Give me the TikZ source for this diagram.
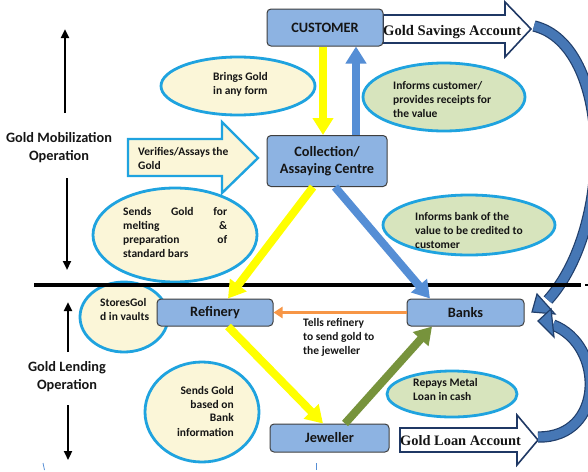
\documentclass[tikz,border=0pt]{standalone}
\usepackage{fontspec}
\setmainfont{Carlito}
\newfontfamily\serifb{Liberation Serif}
\usetikzlibrary{shapes.geometric,arrows.meta,calc}
\definecolor{boxfill}{HTML}{8DB3E2}
\definecolor{boxline}{HTML}{3F3F3F}
\definecolor{ellline}{HTML}{1FA3DF}
\definecolor{ellyel}{HTML}{FBF6D8}
\definecolor{ellgrn}{HTML}{D7E4BD}
\definecolor{ylw}{HTML}{FFFF00}
\definecolor{blu}{HTML}{558ED5}
\definecolor{grn}{HTML}{77933C}
\definecolor{org}{HTML}{F79646}
\definecolor{navy}{HTML}{1F3864}
\definecolor{cfill}{HTML}{4677B5}
\definecolor{cline}{HTML}{213F6B}
\definecolor{txt}{HTML}{151515}
\tikzset{
  box/.style={draw=boxline, line width=1pt, fill=boxfill, rounded corners=4pt, text=txt,
    font=\bfseries\fontsize{14.3}{17}\selectfont, align=center, inner sep=0pt},
  ell/.style={ellipse, draw=ellline, line width=2.8pt, inner sep=0pt},
  etxt/.style={font=\bfseries\fontsize{11.5}{14}\selectfont, text=txt, inner sep=0pt},
  side/.style={font=\bfseries\fontsize{14.3}{18}\selectfont, text=txt, align=center, inner sep=0pt},
  vert/.style={line width=2.6pt, -{Triangle[width=8pt,length=9pt]}},
  fat/.style={line width=8pt, -{Triangle[width=20pt,length=17pt]}},
  blockarr/.style={draw=navy, line width=1.6pt, fill=white, line join=miter},
  curved/.style={draw=cline, double=cfill, double distance=9pt, line width=1.2pt},
  chead/.style={draw=cline, fill=cfill, line width=1.2pt, line join=miter},
}
\begin{document}
\begin{tikzpicture}[x=1pt,y=-1pt]
\useasboundingbox (0,0) rectangle (588,471);
\clip (0,0) rectangle (588,471);

% block arrows
\draw[blockarr] (383,15) -- (505,15) -- (505,2) -- (531,29) -- (505,57) -- (505,43) -- (383,43) -- cycle;
\node[font=\serifb\bfseries\fontsize{14.6}{16}\selectfont, text=txt, inner sep=0pt, anchor=west] (gsa) at (383,32) {Gold Savings Account};
\draw[blockarr] (400,428) -- (517,428) -- (517,415) -- (538,440) -- (517,465) -- (517,452) -- (400,452) -- cycle;
\node[font=\serifb\bfseries\fontsize{14.4}{16}\selectfont, text=txt, inner sep=0pt, anchor=west] (gla) at (400,441) {Gold Loan Account};

% curved arrows
\draw[curved] (534,26) .. controls (612,45) and (615,225) .. (548,300);
\draw[chead] (532,312) -- (537,294) -- (555,314) -- cycle;
\draw[curved] (538,437) .. controls (605,438) and (605,345) .. (553,325);
\draw[chead] (538,321) -- (551,309) -- (554,337) -- cycle;

\draw[blockarr, draw=ellline, line width=2.4pt, fill=ellyel] (128,139) -- (222,139) -- (222,122) -- (258,158) -- (222,193) -- (222,176) -- (128,176) -- cycle;
\node[etxt, anchor=west, align=left] (t3) at (138,158) {Verifies/Assays the\\Gold};

% ellipses
\node[ell, fill=ellyel, minimum width=154pt, minimum height=58pt] (e1) at (238,86) {};
\node[ell, fill=ellgrn, minimum width=162pt, minimum height=68pt] (e2) at (444,97) {};
\node[ell, fill=ellyel, minimum width=164pt, minimum height=94pt] (e4) at (175,235) {};
\node[ell, fill=ellgrn, minimum width=172pt, minimum height=60pt] (e5) at (469,225) {};
\node[ell, fill=ellyel, minimum width=88pt, minimum height=70pt] (e6) at (124,317) {};
\node[ell, fill=ellgrn, minimum width=130pt, minimum height=46pt] (e8) at (452,394) {};
\node[ell, fill=ellyel, minimum width=114pt, minimum height=100pt] (e9) at (202,412) {};

\node[etxt, anchor=west, align=left] (t1) at (213,84) {Brings Gold\\in any form};
\node[etxt, anchor=west, align=left] (t2) at (393,99.5) {Informs customer/\\provides receipts for\\the value};
\node[etxt, anchor=west, align=left] (t4) at (123,233) {\hbox to 104pt{Sends\hfill Gold\hfill for}\\\hbox to 104pt{melting\hfill \&}\\\hbox to 104pt{preparation\hfill of}\\\hbox to 104pt{standard bars\hfill}};
\node[etxt, anchor=west, align=left] (t5) at (415,230.5) {Informs bank of the\\value to be credited to\\customer};
\node[etxt, anchor=west, align=left] (t6) at (100,310) {StoresGol\\d in vaults};
\node[etxt, anchor=west, align=left] (t7) at (303,337.5) {Tells refinery\\to send gold to\\the jeweller};
\node[etxt, anchor=west, align=left] (t8) at (413,390) {Repays Metal\\Loan in cash};
\node[etxt, anchor=east, align=right] (t9) at (234,411) {Sends Gold\\based on\\Bank\\information};

% separator line
\draw[line width=3.5pt] (34,285) -- (581,285);
\draw[line width=2pt] (585,285) -- (588,285);

% boxes
\node[box, minimum width=116pt, minimum height=37pt] (cust) at (325,27.5) {CUSTOMER};
\node[box, minimum width=120pt, minimum height=51pt] (coll) at (327,161) {Collection/\\Assaying Centre};
\node[box, minimum width=116pt, minimum height=27pt] (ref) at (215,312.5) {Refinery};
\node[box, minimum width=117pt, minimum height=27pt] (bank) at (465.5,312.5) {Banks};
\node[box, minimum width=119pt, minimum height=28pt] (jew) at (329.5,438) {Jeweller};

% connectors
\draw[fat, ylw] ($(cust.south)+(-2,0)$) -- ($(coll.north)+(-4,0)$);
\draw[fat, blu] ($(coll.north)+(29,0)$) -- ($(cust.south)+(31,0)$);
\draw[fat, ylw] ($(coll.south)+(-14,0)$) -- ($(ref.north)+(13,0)$);
\draw[fat, blu] ($(coll.south)+(8,0)$) -- ($(bank.north)+(-35.5,0)$);
\draw[org, line width=3pt, -{Triangle[width=11pt,length=9pt]}] (bank.west) -- (ref.east);
\draw[fat, ylw] ($(ref.south)+(13,0)$) -- ($(jew.north)+(-6.5,0)$);
\draw[fat, grn] ($(jew.north)+(15.5,0)$) -- ($(bank.south)+(-33.5,0)$);

% side labels
\node[side] (mob) at (59,148) {Gold Mobilization\\Operation};
\node[side] (lend) at (67,377) {Gold Lending\\Operation};
\coordinate (a1s) at (65,113);
\coordinate (a1e) at (65,29);
\coordinate (a2s) at (67,178);
\coordinate (a2e) at (67,270);
\coordinate (a3s) at (68,352);
\coordinate (a3e) at (68,302);
\coordinate (a4s) at (68,405);
\coordinate (a4e) at (68,460);
\draw[vert] (a1s) -- (a1e);
\draw[vert] (a2s) -- (a2e);
\draw[vert] (a3s) -- (a3e);
\draw[vert] (a4s) -- (a4e);

% small marks
\draw[blu, line width=0.8pt] (43,463) -- (44.5,470);
\draw[blu, line width=0.8pt] (316,463) -- (316,470);
\end{tikzpicture}
\end{document}
